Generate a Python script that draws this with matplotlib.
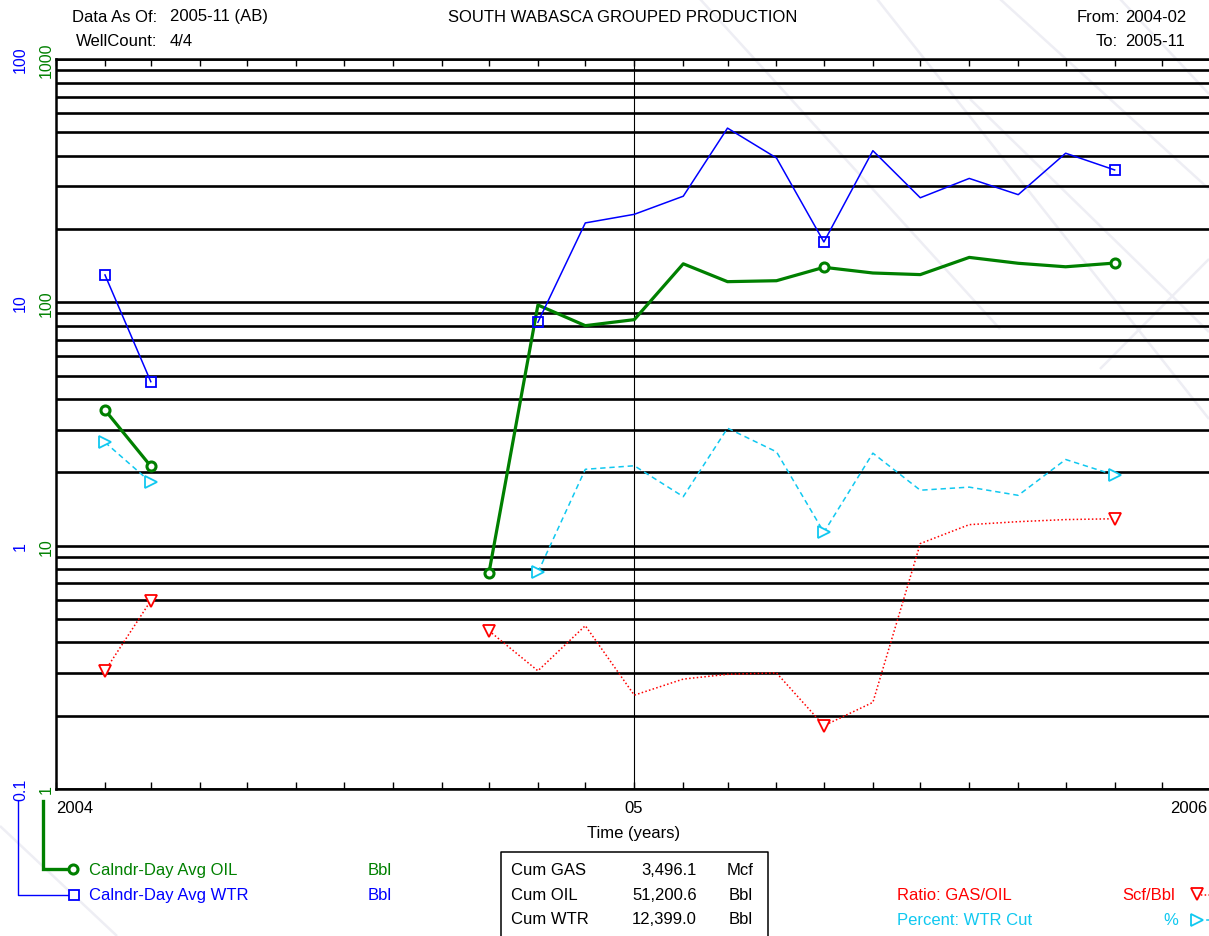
import numpy as np
import matplotlib
matplotlib.use('Agg')
import matplotlib.pyplot as plt
import matplotlib.dates as mdates
from matplotlib.ticker import LogLocator, NullFormatter, NullLocator
from datetime import datetime

plt.rcParams['font.family'] = ['Liberation Sans', 'DejaVu Sans']

# ---------------- data ----------------
months = ["2004-02", "2004-03", "2004-04", "2004-05", "2004-06", "2004-07",
          "2004-08", "2004-09", "2004-10", "2004-11", "2004-12", "2005-01",
          "2005-02", "2005-03", "2005-04", "2005-05", "2005-06", "2005-07",
          "2005-08", "2005-09", "2005-10", "2005-11"]
nan = np.nan
oil_bbl_day = [36.1, 21.2, nan, nan, nan, nan, nan, nan, 7.72, 97.5, 80.2, 84.9,
               144, 121.6, 122.7, 139.3, 132, 130, 153, 144.7, 140, 145]
wtr_bbl_day = [12.96, 4.72, nan, nan, nan, nan, nan, nan, nan, 8.28, 21.2, 23.0,
               27.3, 52.0, 39.2, 17.7, 42.0, 26.9, 32.3, 27.7, 41.0, 35.0]
gor_scf_bbl = [30.6, 59.4, nan, nan, nan, nan, nan, nan, 44.7, 30.6, 46.9, 24.3,
               28.3, 29.6, 30.0, 18.2, 22.7, 102, 122, 125.5, 128, 129]
wtr_cut_pct = [26.6, 18.2, nan, nan, nan, nan, nan, nan, nan, 7.77, 20.6, 21.3,
               15.9, 30.4, 24.3, 11.35, 24.0, 16.9, 17.4, 16.1, 22.6, 19.5]

oil_ticks = [1, 10, 100, 1000]
wtr_ticks = [0.1, 1, 10, 100]
cum_names = ["Cum GAS", "Cum OIL", "Cum WTR"]
cum_values = ["3,496.1", "51,200.6", "12,399.0"]
cum_units = ["Mcf", "Bbl", "Bbl"]

dates = [datetime.strptime(m, "%Y-%m") for m in months]

# ---------------- figure ----------------
W, H = 1209, 937
fig = plt.figure(figsize=(W / 100, H / 100), dpi=100)
fig.patch.set_facecolor('white')

GREEN = '#008000'
BLUE = '#0000FF'
RED = '#FF0000'
CYAN = '#10C8F0'
fs = 12
tfs = 11.5

# overlay in pixel coordinates for header / legend / table text
ov = fig.add_axes([0, 0, 1, 1], zorder=-1)
ov.set_xlim(0, W)
ov.set_ylim(H, 0)
ov.axis('off')

# faint watermark strokes
wm = '#EEEEF4'
for (x0, y0, x1, y1) in [(877, 0, 1209, 420), (1000, 0, 1209, 190), (1120, 0, 1209, 95),
                         (970, 100, 1209, 333), (1209, 260, 1100, 370),
                         (0, 827, 117, 937), (700, 0, 1000, 330)]:
    ov.plot([x0, x1], [y0, y1], color=wm, lw=1.8, solid_capstyle='butt')

L, R, T, B = 56, 1211, 60, 790
ax = fig.add_axes([L / W, (H - B) / H, (R - L) / W, (B - T) / H])
ax.set_facecolor('none')
ax.set_yscale('log')
ax.set_ylim(1, 1000)
ax.set_xlim(datetime(2004, 1, 1), datetime(2006, 1, 1))

ax_w = ax.twinx()
ax_w.set_yscale('log')
ax_w.set_ylim(0.1, 100)
ax_g = ax.twinx()
ax_g.set_yscale('log')
ax_g.set_ylim(10, 10000)
ax_g.axis('off')

# grid lines
ax.yaxis.set_minor_locator(LogLocator(base=10, subs=np.arange(2, 10)))
ax.yaxis.set_minor_formatter(NullFormatter())
ax.grid(which='both', axis='y', color='black', lw=1.9)
ax.set_yticks(oil_ticks)
ax.set_yticklabels([str(t) for t in oil_ticks], rotation=90, va='center', color=GREEN, fontsize=tfs)
ax.tick_params(axis='y', which='both', length=0, pad=1.5)

ax_w.set_yticks(wtr_ticks)
ax_w.set_yticklabels(['0.1', '1', '10', '100'], rotation=90, va='center', color=BLUE, fontsize=tfs)
ax_w.yaxis.set_minor_locator(NullLocator())
ax_w.yaxis.tick_left()
ax_w.tick_params(axis='y', which='both', length=0, pad=20)
for s in ax_w.spines.values():
    s.set_visible(False)

ax.xaxis.set_major_locator(mdates.MonthLocator())
ax.tick_params(axis='x', which='both', direction='in', length=5, width=1,
               top=True, bottom=True, labelbottom=False, labeltop=False)
for s in ['left', 'top', 'bottom']:
    ax.spines[s].set_linewidth(1.8)
ax.spines['right'].set_visible(False)
ax.axvline(datetime(2005, 1, 1), color='black', lw=0.8)

# series
ax.plot(dates, oil_bbl_day, color=GREEN, lw=2.3, marker='o', ms=6.5, mew=2.2,
        mfc='white', mec=GREEN, markevery=[0, 1, 8, 15, 21], zorder=3)
ax.plot(dates, wtr_cut_pct, color=CYAN, lw=1.1, ls=(0, (3.5, 2.5)), marker='>', ms=8, mew=1.3,
        mfc='white', mec=CYAN, markevery=[0, 1, 9, 15, 21], zorder=3)
ax_w.plot(dates, wtr_bbl_day, color=BLUE, lw=1.1, marker='s', ms=7.5, mew=1.3,
          mfc='none', mec=BLUE, markevery=[0, 1, 9, 15, 21])
ax_g.plot(dates, gor_scf_bbl, color=RED, lw=1.1, ls=(0, (1, 1.5)), marker='v', ms=8, mew=1.3,
          mfc='white', mec=RED, markevery=[0, 1, 8, 15, 21])

# x labels
ov.text(56, 809, "2004", ha='left', va='center', fontsize=fs)
ov.text(634, 809, "05", ha='center', va='center', fontsize=fs)
ov.text(1207, 809, "2006", ha='right', va='center', fontsize=fs)
ov.text(634, 834, "Time (years)", ha='center', va='center', fontsize=fs)

# header
ov.text(157, 17, "Data As Of:", ha='right', va='center', fontsize=fs)
ov.text(170, 17, "2005-11 (AB)", ha='left', va='center', fontsize=fs)
ov.text(157, 41, "WellCount:", ha='right', va='center', fontsize=fs)
ov.text(170, 41, "4/4", ha='left', va='center', fontsize=fs)
ov.text(623, 17, "SOUTH WABASCA GROUPED PRODUCTION", ha='center', va='center', fontsize=fs)
ov.text(1120, 17, "From:", ha='right', va='center', fontsize=fs)
ov.text(1125, 17, "2004-02", ha='left', va='center', fontsize=fs)
ov.text(1118, 41, "To:", ha='right', va='center', fontsize=fs)
ov.text(1125, 41, "2005-11", ha='left', va='center', fontsize=fs)

# left legend
ov.plot([42.5, 42.5, 70], [802, 870, 870], color=GREEN, lw=2.4, solid_joinstyle='miter')
ov.plot([73], [870], marker='o', ms=6.5, mew=2.2, mfc='white', mec=GREEN, color=GREEN)
ov.plot([18, 18, 68], [802, 896, 896], color=BLUE, lw=1.0)
ov.plot([74], [896], marker='s', ms=7.5, mew=1.3, mfc='white', mec=BLUE)
ov.text(89, 871, "Calndr-Day Avg OIL", ha='left', va='center', fontsize=fs, color=GREEN)
ov.text(89, 896, "Calndr-Day Avg WTR", ha='left', va='center', fontsize=fs, color=BLUE)
ov.text(368, 871, "Bbl", ha='left', va='center', fontsize=fs, color=GREEN)
ov.text(368, 896, "Bbl", ha='left', va='center', fontsize=fs, color=BLUE)

# cum table
ov.plot([501, 501, 768, 768], [945, 853, 853, 945], color='black', lw=1.1)
for i, (n, v, u) in enumerate(zip(cum_names, cum_values, cum_units)):
    y = 871 + i * 24.5
    ov.text(511, y, n, ha='left', va='center', fontsize=fs)
    ov.text(697, y, v, ha='right', va='center', fontsize=fs)
    ov.text(753, y, u, ha='right', va='center', fontsize=fs)

# right legend
ov.text(897, 896, "Ratio: GAS/OIL", ha='left', va='center', fontsize=fs, color=RED)
ov.text(1175, 896, "Scf/Bbl", ha='right', va='center', fontsize=fs, color=RED)
ov.plot([1197, 1212], [896, 896], color=RED, lw=1.1, ls=(0, (1, 1.5)))
ov.plot([1197], [895], marker='v', ms=8, mew=1.3, mfc='white', mec=RED)
ov.text(897, 921, "Percent: WTR Cut", ha='left', va='center', fontsize=fs, color=CYAN)
ov.text(1178, 921, "%", ha='right', va='center', fontsize=fs, color=CYAN)
ov.plot([1197, 1212], [921, 921], color=CYAN, lw=1.1, ls=(0, (3.5, 2.5)))
ov.plot([1197], [921], marker='>', ms=8, mew=1.3, mfc='white', mec=CYAN)

fig.savefig('out.png', dpi=100)
